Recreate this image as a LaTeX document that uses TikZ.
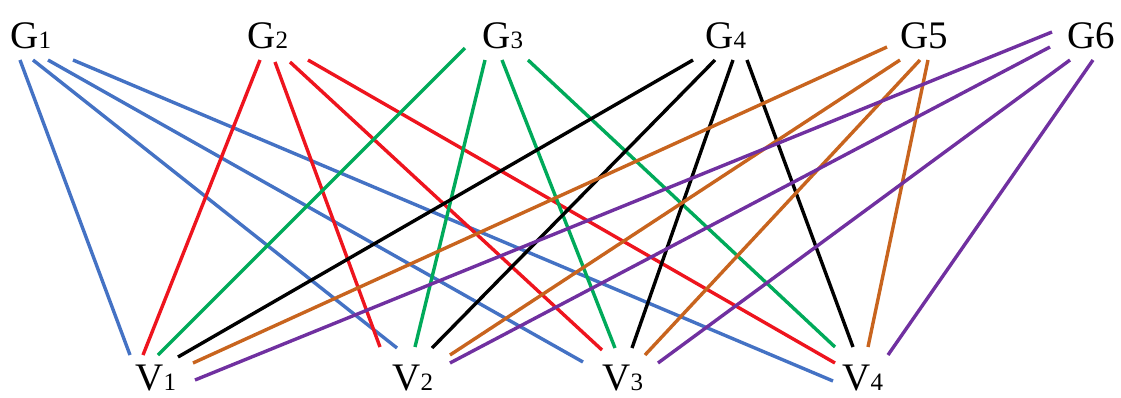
\documentclass[tikz,border=0pt]{standalone}
\usepackage{fontspec}
\setmainfont{Liberation Serif}
\usetikzlibrary{calc}
\definecolor{edgeblue}{RGB}{68,114,196}
\definecolor{edgered}{RGB}{238,20,30}
\definecolor{edgegreen}{RGB}{0,170,90}
\definecolor{edgeorange}{RGB}{200,100,30}
\definecolor{edgepurple}{RGB}{112,48,160}
\newcommand{\smalldigit}[1]{{\fontsize{12.5}{14}\selectfont #1}}

\begin{document}
\begin{tikzpicture}[x=0.5pt, y=-0.5pt,
  lbl/.style={inner sep=0pt, anchor=base west, font=\fontsize{19.5}{22}\selectfont},
  edge/.style={line width=1.7pt}]
\useasboundingbox (0,0) rectangle (1121,397);

% Top row
\node[lbl] (g1) at (10,48) {G\smalldigit{1}};
\node[lbl] (g2) at (247,48) {G\smalldigit{2}};
\node[lbl] (g3) at (482,48) {G\smalldigit{3}};
\node[lbl] (g4) at (705,48) {G\smalldigit{4}};
\node[lbl] (g5) at (900,48) {G5};
\node[lbl] (g6) at (1067,48) {G6};

% Bottom row
\node[lbl] (v1) at (135,390) {V\smalldigit{1}};
\node[lbl] (v2) at (392,390) {V\smalldigit{2}};
\node[lbl] (v3) at (602,390) {V\smalldigit{3}};
\node[lbl] (v4) at (842,390) {V\smalldigit{4}};

% Edges: colour / G node / offset / V node / offset
\foreach \c/\g/\gx/\gy/\v/\vx/\vy in {
  edgeblue/1/10/12/1/-5/-35, edgeblue/1/23/12/2/5/-42,
  edgeblue/1/38/12/3/-19/-28, edgeblue/1/63/12/4/-9/-9,
  edgered/2/13/12/1/8/-35, edgered/2/28/14/2/-12/-43,
  edgered/2/43/14/3/0/-40, edgered/2/61/12/4/-7/-27,
  edgegreen/3/-17/0/1/23/-35, edgegreen/3/3/12/2/23/-43,
  edgegreen/3/20/12/3/13/-42, edgegreen/3/46/12/4/-7/-43,
  black/4/-12/12/1/43/-33, black/4/10/12/2/40/-42,
  black/4/28/12/3/30/-42, black/4/42/12/4/11/-43,
  edgeorange/5/-13/-1/1/58/-27, edgeorange/5/0/12/2/58/-35,
  edgeorange/5/20/12/3/43/-35, edgeorange/5/28/12/4/26/-43,
  edgepurple/6/-15/-16/1/60/-10, edgepurple/6/-17/-1/2/58/-27,
  edgepurple/6/3/12/3/56/-27, edgepurple/6/26/12/4/46/-35}
  \draw[edge,\c] ($(g\g.base west)+(\gx,\gy)$) -- ($(v\v.base west)+(\vx,\vy)$);
\end{tikzpicture}
\end{document}
